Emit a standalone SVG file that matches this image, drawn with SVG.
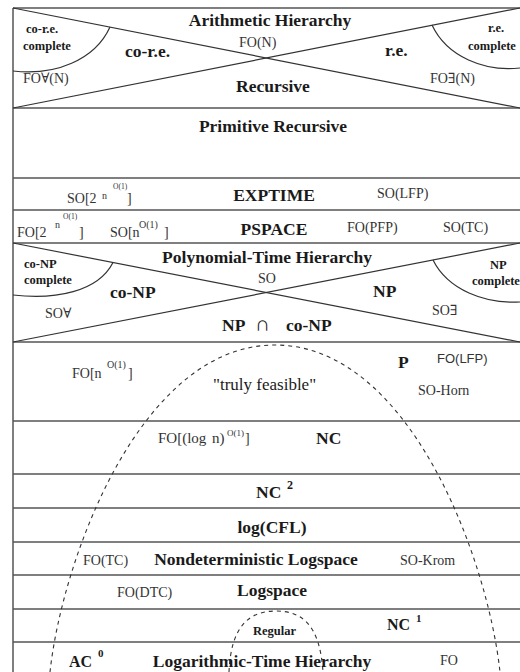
<svg xmlns="http://www.w3.org/2000/svg" width="520" height="672" viewBox="0 0 520 672">
<style>
text{font-family:"Liberation Serif","Times New Roman","DejaVu Serif",serif;fill:#1a1a1a}
.b{font-weight:bold;font-size:17.5px}
.sb{font-weight:bold;font-size:12.5px}
.r{font-size:14px;fill:#333}
.sup{font-size:10px;fill:#333}
.tiny{font-size:7.5px;fill:#333}
.hl{stroke:#555;stroke-width:1.5;fill:none}
.ln{stroke:#333;stroke-width:1.2;fill:none}
.dash{stroke:#333;stroke-width:1.1;fill:none;stroke-dasharray:4 4}
</style>
<rect x="0" y="0" width="520" height="672" fill="#fff"/>
<g id="frame">
<line class="hl" x1="13" y1="8" x2="520" y2="8"/>
<line class="hl" x1="13" y1="8" x2="13" y2="672"/>
<line class="hl" x1="13" y1="108" x2="520" y2="108"/>
<line class="hl" x1="13" y1="178" x2="520" y2="178"/>
<line class="hl" x1="13" y1="210" x2="520" y2="210"/>
<line class="hl" x1="13" y1="243" x2="520" y2="243"/>
<line class="hl" x1="13" y1="342" x2="520" y2="342"/>
<line class="hl" x1="13" y1="421" x2="520" y2="421"/>
<line class="hl" x1="13" y1="474" x2="520" y2="474"/>
<line class="hl" x1="13" y1="508" x2="520" y2="508"/>
<line class="hl" x1="13" y1="542" x2="520" y2="542"/>
<line class="hl" x1="13" y1="575" x2="520" y2="575"/>
<line class="hl" x1="13" y1="609" x2="520" y2="609"/>
<line class="hl" x1="13" y1="642" x2="520" y2="642"/>
</g>
<g id="connectors">
<line class="ln" x1="13" y1="8" x2="520" y2="108"/>
<line class="ln" x1="13" y1="108" x2="520" y2="8"/>
<path class="ln" d="M110,27 C95,60 55,76 13,71"/>
<path class="ln" d="M432,25 C447,57 485,72 520,68"/>
<line class="ln" x1="13" y1="243" x2="520" y2="342"/>
<line class="ln" x1="13" y1="342" x2="520" y2="243"/>
<path class="ln" d="M113,262.5 C98,292 55,300 13,295"/>
<path class="ln" d="M433,260 C448,290 485,304 520,302"/>
<path class="dash" d="M50,672 C62,560 140,345 275,345 C410,345 488,560 500,672"/>
<path class="dash" d="M229,672 C231,625 250,611 276,611 C302,611 320,625 323,672"/>
</g>
<g id="arithmetic">
<text class="b" x="270" y="26" text-anchor="middle">Arithmetic Hierarchy</text>
<text class="sb" x="26" y="33">co-r.e.</text>
<text class="sb" x="23" y="50">complete</text>
<text class="b" x="125" y="57">co-r.e.</text>
<text class="r" x="239" y="47">FO(N)</text>
<text class="b" x="385" y="56">r.e.</text>
<text class="sb" x="488" y="32">r.e.</text>
<text class="sb" x="468" y="50">complete</text>
<text class="r" x="23" y="83">FO∀(N)</text>
<text class="r" x="430" y="83">FO∃(N)</text>
<text class="b" x="236" y="92">Recursive</text>
</g>
<g id="primrec">
<text class="b" x="273" y="132" text-anchor="middle">Primitive Recursive</text>
</g>
<g id="exptime">
<text class="r" x="67" y="203">SO[2</text>
<text class="sup" x="102" y="199">n</text>
<text class="tiny" x="113" y="189">O(1)</text>
<text class="r" x="127" y="203">]</text>
<text class="b" x="274" y="201" text-anchor="middle">EXPTIME</text>
<text class="r" x="377" y="198">SO(LFP)</text>
</g>
<g id="pspace">
<text class="r" x="17" y="237">FO[2</text>
<text class="sup" x="55" y="228">n</text>
<text class="tiny" x="63" y="219">O(1)</text>
<text class="r" x="79" y="237">]</text>
<text class="r" x="110" y="237">SO[n</text>
<text class="sup" x="139" y="228">O(1)</text>
<text class="r" x="164" y="237">]</text>
<text class="b" x="274" y="235" text-anchor="middle">PSPACE</text>
<text class="r" x="347" y="232">FO(PFP)</text>
<text class="r" x="443" y="232">SO(TC)</text>
</g>
<g id="ph">
<text class="b" x="267" y="263" text-anchor="middle">Polynomial-Time Hierarchy</text>
<text class="sb" x="24" y="268">co-NP</text>
<text class="sb" x="24" y="284">complete</text>
<text class="b" x="110" y="298">co-NP</text>
<text class="r" x="258" y="283">SO</text>
<text class="b" x="373" y="297">NP</text>
<text class="sb" x="490" y="269">NP</text>
<text class="sb" x="472" y="285">complete</text>
<text class="r" x="45" y="318">SO∀</text>
<text class="r" x="432" y="315">SO∃</text>
<text class="b" x="222" y="331">NP</text>
<text class="b" x="255" y="331" style="font-size:21px">∩</text>
<text class="b" x="286" y="331">co-NP</text>
</g>
<g id="p">
<text class="r" x="72" y="378">FO[n</text>
<text class="sup" x="107" y="368">O(1)</text>
<text class="r" x="128" y="378">]</text>
<text x="213" y="390" style="font-size:17px">"truly feasible"</text>
<text class="b" x="398" y="368">P</text>
<text class="r" x="437" y="363" style="font-family:'Liberation Sans',Arial,sans-serif;font-size:13px">FO(LFP)</text>
<text class="r" x="418" y="395">SO-Horn</text>
</g>
<g id="nc">
<text class="r" x="158" y="443" style="font-size:15px;word-spacing:2px">FO[(log n)</text>
<text class="sup" x="227" y="436" style="font-size:9px">O(1)</text>
<text class="r" x="245" y="443">]</text>
<text class="b" x="316" y="444">NC</text>
</g>
<g id="nc2">
<text class="b" x="256" y="498">NC</text>
<text class="b" x="287" y="489" style="font-size:12px">2</text>
</g>
<g id="logcfl">
<text class="b" x="272" y="533" text-anchor="middle">log(CFL)</text>
</g>
<g id="nl">
<text class="r" x="83" y="565">FO(TC)</text>
<text class="b" x="256" y="565" text-anchor="middle">Nondeterministic Logspace</text>
<text class="r" x="400" y="565">SO-Krom</text>
</g>
<g id="l">
<text class="r" x="117" y="597">FO(DTC)</text>
<text class="b" x="272" y="596" text-anchor="middle">Logspace</text>
</g>
<g id="nc1">
<text class="sb" x="253" y="635">Regular</text>
<text class="b" x="387" y="630" style="font-size:16px">NC</text>
<text class="b" x="416" y="622" style="font-size:11px">1</text>
</g>
<g id="lh">
<text class="b" x="69" y="667" style="font-size:16px">AC</text>
<text class="b" x="98" y="657" style="font-size:11px">0</text>
<text class="b" x="262" y="667" text-anchor="middle">Logarithmic-Time Hierarchy</text>
<text class="r" x="440" y="665">FO</text>
</g>
</svg>
